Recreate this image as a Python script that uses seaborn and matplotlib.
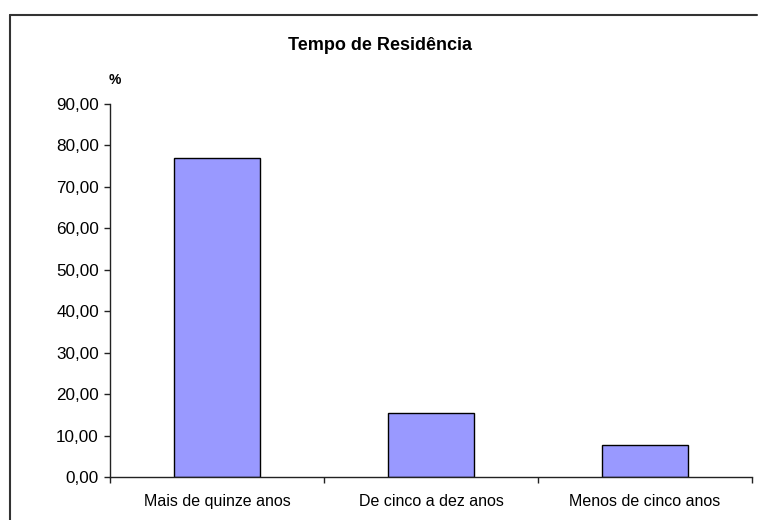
import matplotlib
matplotlib.use("Agg")
import matplotlib.pyplot as plt
import seaborn as sns
from matplotlib.lines import Line2D
from matplotlib.ticker import FuncFormatter, MultipleLocator

categories = ["Mais de quinze anos", "De cinco a dez anos", "Menos de cinco anos"]
percentages = [76.92, 15.38, 7.69]
title = "Tempo de Residência"
y_label = "%"

sns.set_theme(style="white")
plt.rcParams['font.family'] = ['Liberation Sans', 'DejaVu Sans']
plt.rcParams['text.color'] = "black"

W, H = 759, 520
fig = plt.figure(figsize=(W / 100, H / 100), dpi=100)
ax = fig.add_axes([110 / W, 1 - 477 / H, (752 - 110) / W, (477 - 104) / H])

sns.barplot(x=categories, y=percentages, color="#9999FF", edgecolor="black",
            linewidth=1.0, width=0.4, saturation=1, ax=ax)

ax.set_xlim(-0.5, 2.5)
ax.set_ylim(0, 90)
ax.yaxis.set_major_locator(MultipleLocator(10))
ax.yaxis.set_major_formatter(FuncFormatter(lambda v, p: f"{v:.2f}".replace(".", ",")))
ax.set_xlabel("")
ax.set_ylabel("")

# tick marks at category boundaries, labels centred under bars
ax.set_xticks([-0.5, 0.5, 1.5, 2.5], minor=True)
ax.tick_params(axis="x", which="major", length=0, pad=12, labelsize=11.5, labelcolor="black")
ax.tick_params(axis="x", which="minor", length=4, width=1, color="#222222", direction="out")
ax.tick_params(axis="y", which="major", length=4, width=1, color="#222222", direction="out",
               pad=4, labelsize=12.3, labelcolor="black")
ax.xaxis.set_tick_params(bottom=True, which="both")
ax.yaxis.set_tick_params(left=True)

sns.despine(ax=ax)
for side in ("left", "bottom"):
    ax.spines[side].set_color("#222222")
    ax.spines[side].set_linewidth(1.0)

fig.text(0.5, 1 - 45 / H, title, ha="center", va="center", fontsize=13, fontweight="bold",
         color="black")
fig.text(115 / W, 1 - 80 / H, y_label, ha="center", va="center", fontsize=10, fontweight="bold",
         color="black")

# chart-area frame (only top and left edges fall inside the image)
fig.add_artist(Line2D([10 / W, 10 / W], [0, 1 - 15 / H], transform=fig.transFigure,
                      color="#333333", lw=1.5))
fig.add_artist(Line2D([10 / W, 757 / W], [1 - 15 / H, 1 - 15 / H], transform=fig.transFigure,
                      color="#333333", lw=1.5))

fig.savefig("out.png", dpi=100)
